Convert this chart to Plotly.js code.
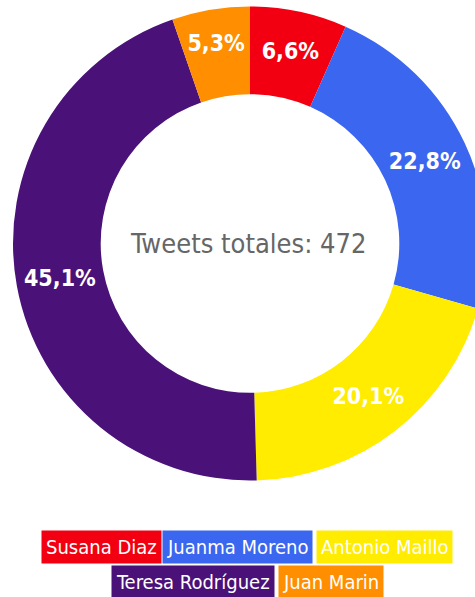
<!DOCTYPE html>
<html>
<head>
<meta charset="utf-8">
<script src="https://cdn.plot.ly/plotly-3.0.1.min.js"></script>
<style>
html,body{margin:0;padding:0;background:#fff;overflow:hidden;}
#chart{width:500px;height:597px;}
</style>
</head>
<body>
<div id="chart"></div>
<script>
// Data
const candidates = ["Susana Diaz", "Juanma Moreno", "Antonio Maillo", "Teresa Rodríguez", "Juan Marin"];
const shares = [6.6, 22.8, 20.1, 45.1, 5.3];
const shareLabels = ["6,6%", "22,8%", "20,1%", "45,1%", "5,3%"];
const colors = ["#F20012", "#3A66F0", "#FFEC00", "#4A1278", "#FF8E00"];
const totalTweets = 472;
const centerLabel = "Tweets totales: " + totalTweets;

const narrow = "Liberation Sans Narrow, DejaVu Sans Condensed, Arial Narrow, sans-serif";

const H = 597;
const trace = {
  type: "pie",
  labels: candidates,
  values: shares,
  text: shareLabels,
  textinfo: "text",
  texttemplate: "<b>%{text}</b>",
  textposition: "inside",
  insidetextorientation: "horizontal",
  textfont: {family: narrow, size: 23, color: "#ffffff"},
  marker: {colors: colors, line: {width: 0}},
  hole: 0.63,
  sort: false,
  direction: "clockwise",
  rotation: 0,
  showlegend: false,
  hoverinfo: "label+text",
  domain: {x: [0, 1], y: [(H - 480.5) / H, (H - 6.5) / H]}
};

// legend chips as annotations
const chipX = [0.203, 0.474, 0.769, 0.385, 0.661];
const chipY = [0.0838, 0.0838, 0.0838, 0.0251, 0.0251];
const annotations = candidates.map((c, i) => ({
  text: c,
  x: chipX[i], y: chipY[i], xref: "paper", yref: "paper",
  xanchor: "center", yanchor: "middle",
  showarrow: false,
  bgcolor: colors[i],
  borderpad: 4,
  font: {family: narrow, size: 20, color: "#ffffff"}
}));
annotations.push({
  text: centerLabel,
  x: 0.496, y: (H - 243.5) / H, xref: "paper", yref: "paper",
  xanchor: "center", yanchor: "middle", showarrow: false,
  font: {family: narrow, size: 27, color: "#666666"}
});

const layout = {
  width: 500, height: H,
  margin: {l: 0, r: 0, t: 0, b: 0},
  paper_bgcolor: "#ffffff",
  showlegend: false,
  annotations: annotations
};

Plotly.newPlot("chart", [trace], layout, {displayModeBar: false, staticPlot: true});
</script>
</body>
</html>
